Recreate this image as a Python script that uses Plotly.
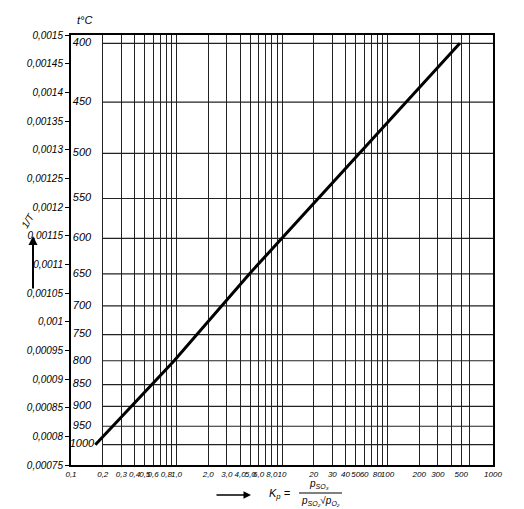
import plotly.graph_objects as go

# ---- data ----
temps_c = [400, 450, 500, 550, 600, 650, 700, 750, 800, 850, 900, 950, 1000]
line_t = [1000, 800, 650, 400]          # °C
line_kp = [0.17, 0.95, 4.9, 485]        # Kp

y_ticks = [0.0015, 0.00145, 0.0014, 0.00135, 0.0013, 0.00125, 0.0012, 0.00115,
           0.0011, 0.00105, 0.001, 0.00095, 0.0009, 0.00085, 0.0008, 0.00075]
y_ticktext = ["0,0015", "0,00145", "0,0014", "0,00135", "0,0013", "0,00125", "0,0012",
              "0,00115", "0,0011", "0,00105", "0,001", "0,00095", "0,0009", "0,00085",
              "0,0008", "0,00075"]

x_grid = [0.1, 0.2, 0.3, 0.4, 0.5, 0.6, 0.7, 0.8, 0.9, 1.0,
          2, 3, 4, 5, 6, 7, 8, 9, 10,
          20, 30, 40, 50, 60, 70, 80, 90, 100,
          200, 300, 400, 500, 600, 1000]
x_labels = {0.1: "0,1", 0.2: "0,2", 0.3: "0,3", 0.4: "0,4", 0.5: "0,5", 0.6: "0,6",
            0.8: "0,8", 1.0: "1,0", 2: "2,0", 3: "3,0", 4: "4,0", 5: "5,0", 6: "6,0",
            8: "8,0", 10: "10", 20: "20", 30: "30", 40: "40", 50: "50", 60: "60",
            80: "80", 100: "100", 200: "200", 300: "300", 500: "500", 1000: "1000"}

FONT = "Liberation Sans, Arial, sans-serif"

inv = lambda t: 1.0 / (t + 273.15)

fig = go.Figure()

# horizontal grid lines at temperature values
gx, gy = [], []
for t in temps_c:
    gx += [0.2, 1000, None]
    gy += [inv(t), inv(t), None]
fig.add_trace(go.Scatter(x=gx, y=gy, mode="lines",
                         line=dict(color="#222", width=1.2),
                         hoverinfo="skip", showlegend=False))

# temperature labels inside the plot
fig.add_trace(go.Scatter(x=[0.127] * len(temps_c), y=[inv(t) for t in temps_c],
                         mode="text", text=[str(t) for t in temps_c],
                         textfont=dict(family=FONT, size=11, color="black", style="italic"),
                         hoverinfo="skip", showlegend=False))

# Kp line
fig.add_trace(go.Scatter(x=line_kp, y=[inv(t) for t in line_t], mode="lines",
                         line=dict(color="black", width=3),
                         hoverinfo="skip", showlegend=False))

fig.update_xaxes(type="log", range=[-1, 3],
                 tickvals=x_grid, ticktext=[x_labels.get(v, "") for v in x_grid],
                 showgrid=True, gridcolor="#222", gridwidth=1.2,
                 ticks="", showline=True, linecolor="black", linewidth=2, mirror=True,
                 tickfont=dict(family=FONT, size=8, color="black", style="italic"),
                 tickangle=0, zeroline=False)
fig.update_yaxes(range=[0.00075, 0.0015], tickvals=y_ticks, ticktext=y_ticktext,
                 showgrid=False, ticks="outside", ticklen=4, tickcolor="black",
                 showline=True, linecolor="black", linewidth=2, mirror=True,
                 tickfont=dict(family=FONT, size=10, color="black", style="italic"),
                 zeroline=False)

L, R, T, B = 63, 485, 27, 457
W, H = R - L, B - T
px = lambda x: (x - L) / W
py = lambda y: (B - y) / H

ann = [
    dict(x=px(76), y=py(12), text="t°C", size=11),
    dict(x=px(272), y=py(486), text="K<sub>p</sub> =", size=11),
    dict(x=px(311), y=py(476), text="p<sub>SO₃</sub>", size=10),
    dict(x=px(312), y=py(493), text="p<sub>SO₂</sub>√p<sub>O₂</sub>", size=10),
]
for a in ann:
    s = a.pop("size")
    fig.add_annotation(xref="paper", yref="paper", showarrow=False,
                       xanchor="center", yanchor="middle",
                       font=dict(family=FONT, size=s, color="black", style="italic"), **a)

# y-axis title and arrows
fig.add_annotation(xref="paper", yref="paper", x=px(19), y=py(213), text="1/T",
                   showarrow=False, textangle=-60, xanchor="center", yanchor="middle",
                   font=dict(family=FONT, size=10, color="black", style="italic"))
fig.add_annotation(xref="paper", yref="paper", x=px(25), y=py(228),
                   ax=0, ay=54, showarrow=True, arrowhead=2, arrowsize=0.9,
                   arrowwidth=2, arrowcolor="black", text="")
fig.add_annotation(xref="paper", yref="paper", x=px(243), y=py(487),
                   ax=-36, ay=0, showarrow=True, arrowhead=2, arrowsize=1,
                   arrowwidth=1.5, arrowcolor="black", text="")

# fraction bar
fig.add_shape(type="line", xref="paper", yref="paper",
              x0=px(291), x1=px(334), y0=py(485), y1=py(485),
              line=dict(color="black", width=1))

fig.update_layout(width=524, height=509, margin=dict(l=L, r=524 - R, t=T, b=509 - B),
                  paper_bgcolor="white", plot_bgcolor="white", showlegend=False)

fig.write_html("out.html")
